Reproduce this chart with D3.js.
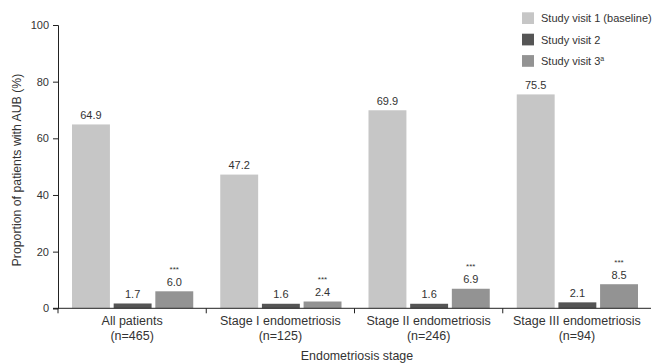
<!DOCTYPE html>
<html>
<head>
<meta charset="utf-8">
<script src="https://cdn.jsdelivr.net/npm/d3@7"></script>
<style>
  body { margin: 0; background: #fff; }
  svg { display: block; font-family: "Liberation Sans", Arial, sans-serif; }
</style>
</head>
<body>
<svg id="chart" width="652" height="363"></svg>
<script>
// Groups (endometriosis stage) and their sample sizes
const categories = ["All patients", "Stage I endometriosis", "Stage II endometriosis", "Stage III endometriosis"];
const sampleSizes = ["(n=465)", "(n=125)", "(n=246)", "(n=94)"];

// Proportion of patients with AUB (%) per study visit
const seriesNames = ["Study visit 1 (baseline)", "Study visit 2", "Study visit 3"];
const visit1 = [64.9, 47.2, 69.9, 75.5];
const visit2 = [1.7, 1.6, 1.6, 2.1];
const visit3 = [6.0, 2.4, 6.9, 8.5];
const significance = ["", "", "***"];

const yTicks = [0, 20, 40, 60, 80, 100];
const colors = ["#c6c6c6", "#555555", "#939393"];

const series = [visit1, visit2, visit3];

const svg = d3.select("#chart");
const margin = { left: 58, right: 1, top: 25, bottom: 55 };
const width = 652, height = 363;
const plotBottom = height - margin.bottom + 0.3;

const x0 = d3.scaleBand()
  .domain(categories)
  .range([margin.left, width - margin.right])
  .paddingInner(0)
  .paddingOuter(0);

const x1 = d3.scaleBand()
  .domain(d3.range(series.length))
  .range([14, x0.bandwidth() - 13])
  .paddingInner(0.09);

const y = d3.scaleLinear()
  .domain([0, 100])
  .range([plotBottom, margin.top]);

// Bars
categories.forEach((cat, ci) => {
  const g = svg.append("g").attr("transform", `translate(${x0(cat)},0)`);
  series.forEach((vals, si) => {
    const v = vals[ci];
    g.append("rect")
      .attr("x", x1(si))
      .attr("y", y(v))
      .attr("width", x1.bandwidth())
      .attr("height", y(0) - y(v))
      .attr("fill", colors[si]);
    g.append("text")
      .attr("x", x1(si) + x1.bandwidth() / 2)
      .attr("y", y(v) - 5.5)
      .attr("text-anchor", "middle")
      .attr("font-size", 11)
      .attr("fill", "#333")
      .text(v.toFixed(1));
    if (significance[si]) {
      g.append("text")
        .attr("x", x1(si) + x1.bandwidth() / 2)
        .attr("y", y(v) - 19.5)
        .attr("text-anchor", "middle")
        .attr("font-size", 8)
        .attr("fill", "#333")
        .text(significance[si]);
    }
  });
});

// Y axis
const yAxis = svg.append("g")
  .attr("transform", `translate(${margin.left},0)`)
  .call(d3.axisLeft(y).tickValues(yTicks).tickSize(5).tickPadding(4));
yAxis.select(".domain").attr("stroke", "#222");
yAxis.selectAll(".tick line").attr("stroke", "#222");
yAxis.selectAll(".tick text").attr("font-size", 11).attr("fill", "#333")
  .attr("font-family", "Liberation Sans, Arial, sans-serif");

// X axis with boundary ticks between groups
const xAxis = svg.append("g").attr("transform", `translate(0,${plotBottom})`);
xAxis.append("line")
  .attr("x1", margin.left - 5).attr("x2", width - margin.right)
  .attr("stroke", "#222");
const boundaries = categories.map(c => x0(c));
xAxis.selectAll(".bt").data(boundaries).enter().append("line")
  .attr("x1", d => d).attr("x2", d => d)
  .attr("y1", 0).attr("y2", 5)
  .attr("stroke", "#222");

categories.forEach((cat, ci) => {
  const cx = x0(cat) + x0.bandwidth() / 2;
  xAxis.append("text")
    .attr("x", cx).attr("y", 16.8)
    .attr("text-anchor", "middle")
    .attr("font-size", 12.5).attr("fill", "#333")
    .text(cat);
  xAxis.append("text")
    .attr("x", cx).attr("y", 31.7)
    .attr("text-anchor", "middle")
    .attr("font-size", 12.5).attr("fill", "#333")
    .text(sampleSizes[ci]);
});

// Axis titles
svg.append("text")
  .attr("x", 357)
  .attr("y", 360)
  .attr("text-anchor", "middle")
  .attr("font-size", 12.4).attr("fill", "#333")
  .text("Endometriosis stage");

svg.append("text")
  .attr("transform", `translate(21,170) rotate(-90)`)
  .attr("text-anchor", "middle")
  .attr("font-size", 12.3).attr("fill", "#333")
  .text("Proportion of patients with AUB (%)");

// Legend
const legend = svg.append("g").attr("transform", "translate(522,12.3)");
seriesNames.forEach((name, i) => {
  const row = legend.append("g").attr("transform", `translate(0,${i * 21.4})`);
  row.append("rect").attr("width", 12).attr("height", 11.7).attr("fill", colors[i]);
  const t = row.append("text")
    .attr("x", 19).attr("y", 10)
    .attr("font-size", 11).attr("fill", "#333")
    .text(name);
  if (i === 2) {
    t.append("tspan").attr("dy", -4).attr("font-size", 7).text("a");
  }
});
</script>
</body>
</html>
